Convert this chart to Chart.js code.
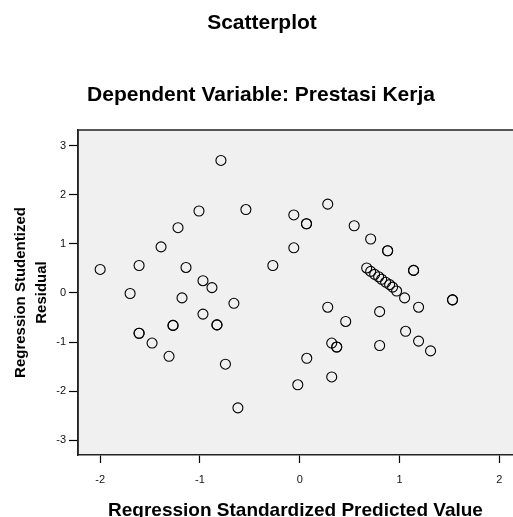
<!DOCTYPE html>
<html>
<head>
<meta charset="utf-8">
<script src="https://cdn.jsdelivr.net/npm/chart.js@4/dist/chart.umd.min.js"></script>
<style>
  html, body { margin: 0; padding: 0; background: #fff; overflow: hidden; }
  canvas { display: block; }
</style>
</head>
<body>
<canvas id="scatter" width="513" height="517"></canvas>
<script>
// values (duplicates = overlapping cases)
const predicted = [
    -2.00, -1.70, -1.61, -1.61, -1.61, -1.48, -1.39, -1.31, -1.27, -1.27,
    -1.22, -1.18, -1.14, -1.01, -0.97, -0.97, -0.88, -0.83, -0.83, -0.79,
    -0.745, -0.66, -0.62, -0.54,
    -0.27, -0.06, -0.06, -0.02, 0.067, 0.067, 0.07, 0.28, 0.28, 0.32,
    0.32, 0.37, 0.37, 0.46, 0.545, 0.71,
    0.67, 0.71, 0.75, 0.79, 0.82, 0.86, 0.90, 0.93, 0.97, 1.05,
    0.80, 0.80, 0.88, 0.88, 1.06, 1.14, 1.14, 1.19, 1.19, 1.31,
    1.53, 1.53
];
const residual = [
    0.48, -0.01, 0.56, -0.82, -0.82, -1.02, 0.94, -1.29, -0.66, -0.66,
    1.33, -0.10, 0.52, 1.67, 0.25, -0.43, 0.11, -0.65, -0.65, 2.70,
    -1.45, -0.21, -2.34, 1.70,
    0.56, 1.59, 0.92, -1.87, 1.41, 1.41, -1.33, 1.81, -0.29, -1.02,
    -1.71, -1.10, -1.10, -0.58, 1.37, 1.10,
    0.51, 0.44, 0.38, 0.33, 0.28, 0.22, 0.17, 0.12, 0.04, -0.10,
    -0.38, -1.07, 0.86, 0.86, -0.78, 0.46, 0.46, -0.29, -0.98, -1.18,
    -0.14, -0.14
];
const xTicks = [-2, -1, 0, 1, 2];
const yTicks = [-3, -2, -1, 0, 1, 2, 3];

const points = predicted.map((x, i) => ({ x: x, y: residual[i] }));

const fontFamily = '"Liberation Sans", Arial, sans-serif';

// grey plot area, frame and the two titles on top
const plotFrame = {
    id: 'plotFrame',
    beforeDraw(chart) {
        const { ctx, chartArea: a } = chart;
        ctx.save();
        ctx.fillStyle = '#f0f0f0';
        ctx.fillRect(a.left, a.top, a.right - a.left, a.bottom - a.top);
        ctx.strokeStyle = '#222';
        ctx.lineWidth = 1.5;
        ctx.beginPath();
        ctx.moveTo(a.left, a.bottom);
        ctx.lineTo(a.left, a.top);
        ctx.lineTo(a.right + 2, a.top);
        ctx.stroke();
        ctx.restore();
    },
    afterDraw(chart) {
        const { ctx } = chart;
        ctx.save();
        ctx.fillStyle = '#000';
        ctx.textAlign = 'center';
        ctx.textBaseline = 'alphabetic';
        ctx.font = 'bold 21px ' + fontFamily;
        ctx.fillText('Scatterplot', 262, 29);
        ctx.fillText('Dependent Variable: Prestasi Kerja', 261, 101);
        ctx.restore();
    }
};

new Chart(document.getElementById('scatter'), {
    type: 'scatter',
    data: {
        datasets: [{
            data: points,
            pointStyle: 'circle',
            pointRadius: 5,
            pointBorderWidth: 1.1,
            pointBorderColor: '#000',
            pointBackgroundColor: 'rgba(0,0,0,0)'
        }]
    },
    options: {
        responsive: false,
        animation: false,
        layout: { autoPadding: false, padding: { top: 130, left: 0, right: 0, bottom: 0 } },
        plugins: {
            legend: { display: false },
            tooltip: { enabled: false }
        },
        scales: {
            x: {
                type: 'linear',
                min: -2.222,
                max: 2.136,
                afterFit(scale) {
                    scale.height = 62;
                    scale.paddingLeft = 0;
                    scale.paddingRight = 0;
                },
                afterBuildTicks(scale) { scale.ticks = xTicks.map(v => ({ value: v })); },
                ticks: {
                    stepSize: 1,
                    includeBounds: false,
                    padding: 10,
                    color: '#111',
                    font: { family: fontFamily, size: 11 }
                },
                grid: { drawOnChartArea: false, tickLength: 8, color: '#000', tickWidth: 1.2 },
                border: { display: true, color: '#222', width: 1.5 },
                title: {
                    display: true,
                    text: 'Regression Standardized Predicted Value',
                    color: '#000',
                    padding: 0,
                    font: { family: fontFamily, size: 19, weight: 'bold', lineHeight: 0.7 }
                }
            },
            y: {
                type: 'linear',
                min: -3.30,
                max: 3.32,
                afterFit(scale) {
                    scale.width = 78;
                    scale.paddingTop = 0;
                    scale.paddingBottom = 0;
                },
                afterBuildTicks(scale) { scale.ticks = yTicks.map(v => ({ value: v })); },
                ticks: {
                    stepSize: 1,
                    includeBounds: false,
                    padding: 3,
                    color: '#111',
                    font: { family: fontFamily, size: 11 }
                },
                grid: { drawOnChartArea: false, tickLength: 9, color: '#000', tickWidth: 1.2 },
                border: { display: true, color: '#222', width: 1.5 },
                title: {
                    display: true,
                    text: ['Regression Studentized', 'Residual'],
                    color: '#000',
                    padding: { top: 10, bottom: 0 },
                    font: { family: fontFamily, size: 15, weight: 'bold', lineHeight: 1.4 }
                }
            }
        }
    },
    plugins: [plotFrame]
});
</script>
</body>
</html>
